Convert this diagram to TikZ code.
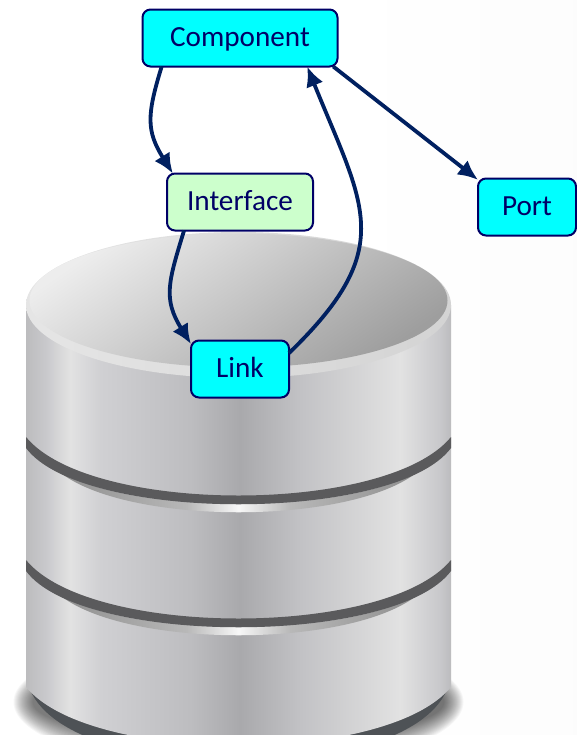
\documentclass[tikz,border=0pt]{standalone}
\usepackage{fontspec}
\setmainfont{Carlito}
\usetikzlibrary{positioning, arrows.meta}

\definecolor{navy}{HTML}{000066}
\definecolor{arrownavy}{HTML}{002060}
\definecolor{boxcyan}{HTML}{00FFFF}
\definecolor{boxgreen}{HTML}{CCFFCC}
\definecolor{banddark}{HTML}{5A5A5C}
\definecolor{basedark}{HTML}{4E5256}
\definecolor{cyledge}{HTML}{BCBCBE}
\definecolor{cylmid}{HTML}{C8C8CB}
\definecolor{cyllight}{HTML}{E2E2E2}
\definecolor{cylsoft}{HTML}{D0D0D3}
\definecolor{cylshade}{HTML}{BDBDC0}
\definecolor{cyldark}{HTML}{A9A9AC}
\definecolor{cylback}{HTML}{C2C2C5}

\pgfdeclarehorizontalshading{bodyshade}{100bp}{
    color(0bp)=(cyledge);
    color(25bp)=(cyledge);
    color(27.2bp)=(cylmid);
    color(30.2bp)=(cyllight);
    color(33.7bp)=(cylsoft);
    color(44.3bp)=(cylshade);
    color(50.2bp)=(cyldark);
    color(57.3bp)=(cylback);
    color(69bp)=(cyllight);
    color(73.7bp)=(cylmid);
    color(75bp)=(cyledge);
    color(100bp)=(cyledge)}
\pgfdeclarehorizontalshading{bandshade}{100bp}{
    color(0bp)=(black!45);
    color(25bp)=(black!45);
    color(43bp)=(black!28);
    color(50bp)=(black!3);
    color(57bp)=(black!28);
    color(75bp)=(black!45);
    color(100bp)=(black!45)}

\begin{document}
\begin{tikzpicture}
    [x=0.5pt, y=-0.5pt,
    cyanbox/.style={rectangle, rounded corners=4pt, draw=navy, line width=1pt, fill=boxcyan, text=navy,
        outer sep=0pt, inner sep=0pt, minimum height=28.5pt, text height=10pt, text depth=2pt,
        font=\fontsize{14.6}{17}\selectfont},
    greenbox/.style={cyanbox, fill=boxgreen},
    flow/.style={-{Latex[length=10pt, width=9pt]}, draw=arrownavy, line width=1.9pt},]

    \useasboundingbox (0,0) rectangle (577,735);

    %Cylinder
    \begin{scope}
    \clip (0,0) rectangle (577,735);
    \shade[left color=white, right color=black!1] (340,0) rectangle (577,735);
    \foreach \k in {1,...,20}
        \fill[black, opacity=0.035] (238.5,702) ellipse [x radius=226-\k, y radius=70-1.5*\k];
    \fill[basedark] (27,680) .. controls (50,790) and (427,790) .. (450,680) -- cycle;
    \shade[shading=bodyshade] (26,305) -- (26,687) .. controls (90,765) and (387,765) .. (451,687) -- (451,305) -- cycle;

    \foreach \dy in {0,123}{
        \begin{scope}[shift={(0,\dy)}]
        \shade[shading=bandshade] (52,465) .. controls (110,528) and (367,528) .. (425,465) .. controls (367,517) and (110,517) .. cycle;
        \fill[banddark] (26,437) .. controls (90,515) and (387,515) .. (451,437) -- (451,448) .. controls (395,523) and (82,523) .. (26,448) -- cycle;
        \end{scope}
    }

    \shade[left color=black!10, right color=black!17] (238.5,305) ellipse [x radius=212.5, y radius=73];
    \shade[shading=axis, top color=black!7, middle color=black!21, bottom color=black!38, shading angle=35]
        (238.5,300.5) ellipse [x radius=209, y radius=67];
    \end{scope}

    %Nodes
    \node[cyanbox, minimum width=97.5pt](Component) at (240,38){Component};
    \node[greenbox, minimum width=73pt](Interface)[below=53.5pt of Component]{Interface};
    \node[cyanbox, minimum width=49pt](Link)[below=55pt of Interface]{Link};
    \node[cyanbox, minimum width=49pt](Port)[right=82.5pt of Interface, yshift=-2.5pt]{Port};

    %Lines
    \draw[flow](Component.200.5) to[out=-107, in=122, looseness=1.2] (Interface.157);
    \draw[flow](Interface.207.5) to[out=-107, in=122, looseness=1.2] (Link.153);
    \draw[flow](Link.18) to[out=44, in=-68, looseness=1.35] (Component.-23);
    \draw[flow](Component.-17)--(Port.151);
\end{tikzpicture}
\end{document}
